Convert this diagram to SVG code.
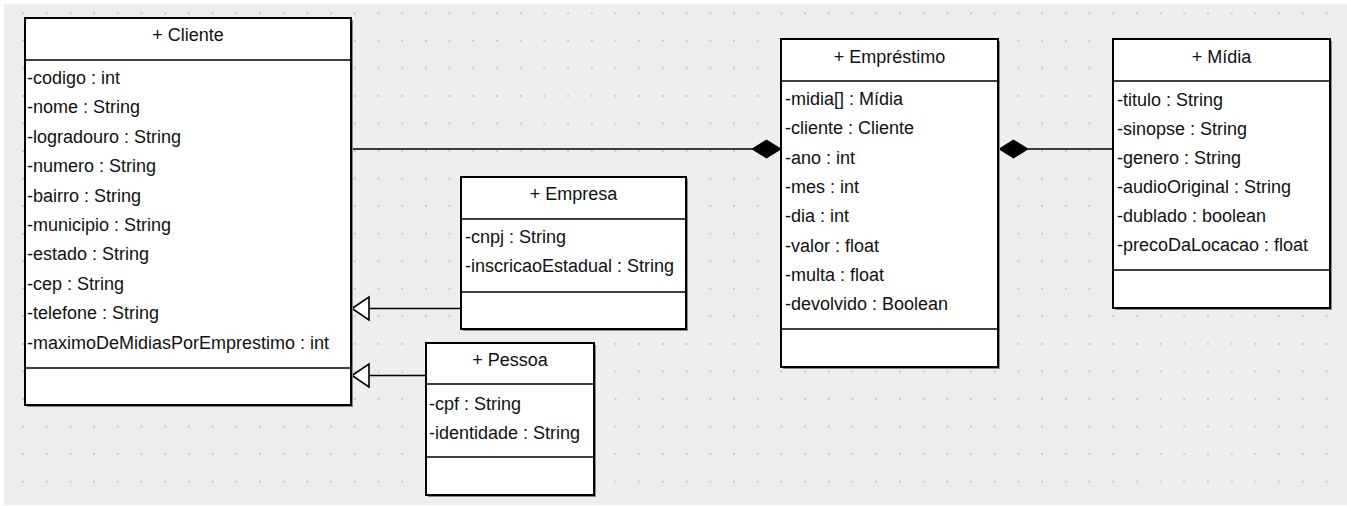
<svg xmlns="http://www.w3.org/2000/svg" width="1347" height="506" viewBox="0 0 1347 506">
<style>
.box{fill:#ffffff;stroke:#000000;stroke-width:2}
.shadow{fill:#8a8a8a}
.div{stroke:#000000;stroke-width:1.6}
.t{font-family:"Liberation Sans",Arial,sans-serif;font-size:18px;fill:#111111}
.h{text-anchor:middle}
.ln{stroke:#000000;stroke-width:1.6;fill:none}
.gen{fill:#ffffff;stroke:#000000;stroke-width:1.6}
.comp{fill:#000000;stroke:#000000;stroke-width:1}
</style>
<defs>
<pattern id="dots" patternUnits="userSpaceOnUse" x="22" y="12.3" width="23.7" height="27.55">
<rect x="0" y="0" width="2" height="2" fill="#c8c8c8"/>
</pattern>
</defs>
<rect x="0" y="0" width="1347" height="506" fill="#ffffff"/>
<rect x="4" y="4" width="1343" height="501" fill="#eeeeee"/>
<rect x="4" y="4" width="1343" height="501" fill="url(#dots)"/>

<g id="connectors">
<line class="ln" x1="351" y1="149" x2="752" y2="149"/>
<polygon class="comp" points="752,149 766.5,140 781,149 766.5,158"/>
<line class="ln" x1="1028" y1="149" x2="1113" y2="149"/>
<polygon class="comp" points="999,149 1013.5,140 1028,149 1013.5,158"/>
<line class="ln" x1="369" y1="308.5" x2="461" y2="308.5"/>
<polygon class="gen" points="352,308.5 369,297 369,320"/>
<line class="ln" x1="369" y1="375.5" x2="426" y2="375.5"/>
<polygon class="gen" points="352,375.5 369,364 369,387"/>
</g>

<g id="cliente">
<rect class="shadow" x="27" y="20" width="326" height="387"/>
<rect class="box" x="25" y="18" width="326" height="387"/>
<line class="div" x1="25" y1="60" x2="351" y2="60"/>
<line class="div" x1="25" y1="368" x2="351" y2="368"/>
<text class="t h" x="188" y="41">+ Cliente</text>
<text class="t" x="27" y="84">-codigo : int</text>
<text class="t" x="27" y="113.4">-nome : String</text>
<text class="t" x="27" y="142.8">-logradouro : String</text>
<text class="t" x="27" y="172.2">-numero : String</text>
<text class="t" x="27" y="201.6">-bairro : String</text>
<text class="t" x="27" y="231">-municipio : String</text>
<text class="t" x="27" y="260.4">-estado : String</text>
<text class="t" x="27" y="289.8">-cep : String</text>
<text class="t" x="27" y="319.2">-telefone : String</text>
<text class="t" x="27" y="348.6">-maximoDeMidiasPorEmprestimo : int</text>
</g>

<g id="empresa">
<rect class="shadow" x="463" y="179" width="225" height="152"/>
<rect class="box" x="461" y="177" width="225" height="152"/>
<line class="div" x1="461" y1="219" x2="686" y2="219"/>
<line class="div" x1="461" y1="292" x2="686" y2="292"/>
<text class="t h" x="573.5" y="200">+ Empresa</text>
<text class="t" x="465" y="243">-cnpj : String</text>
<text class="t" x="465" y="272">-inscricaoEstadual : String</text>
</g>

<g id="pessoa">
<rect class="shadow" x="428" y="345" width="168" height="152"/>
<rect class="box" x="426" y="343" width="168" height="152"/>
<line class="div" x1="426" y1="384" x2="594" y2="384"/>
<line class="div" x1="426" y1="457" x2="594" y2="457"/>
<text class="t h" x="510" y="366">+ Pessoa</text>
<text class="t" x="429" y="410">-cpf : String</text>
<text class="t" x="429" y="438.5">-identidade : String</text>
</g>

<g id="emprestimo">
<rect class="shadow" x="783" y="41" width="217" height="328"/>
<rect class="box" x="781" y="39" width="217" height="328"/>
<line class="div" x1="781" y1="81" x2="998" y2="81"/>
<line class="div" x1="781" y1="329" x2="998" y2="329"/>
<text class="t h" x="889.5" y="63">+ Empréstimo</text>
<text class="t" x="785" y="105">-midia[] : Mídia</text>
<text class="t" x="785" y="134.3">-cliente : Cliente</text>
<text class="t" x="785" y="163.6">-ano : int</text>
<text class="t" x="785" y="192.9">-mes : int</text>
<text class="t" x="785" y="222.2">-dia : int</text>
<text class="t" x="785" y="251.5">-valor : float</text>
<text class="t" x="785" y="280.8">-multa : float</text>
<text class="t" x="785" y="310.1">-devolvido : Boolean</text>
</g>

<g id="midia">
<rect class="shadow" x="1115" y="41" width="217" height="269"/>
<rect class="box" x="1113" y="39" width="217" height="269"/>
<line class="div" x1="1113" y1="81" x2="1330" y2="81"/>
<line class="div" x1="1113" y1="270" x2="1330" y2="270"/>
<text class="t h" x="1221.5" y="63">+ Mídia</text>
<text class="t" x="1117" y="105.5">-titulo : String</text>
<text class="t" x="1117" y="134.5">-sinopse : String</text>
<text class="t" x="1117" y="163.5">-genero : String</text>
<text class="t" x="1117" y="192.5">-audioOriginal : String</text>
<text class="t" x="1117" y="221.5">-dublado : boolean</text>
<text class="t" x="1117" y="250.5">-precoDaLocacao : float</text>
</g>
</svg>
